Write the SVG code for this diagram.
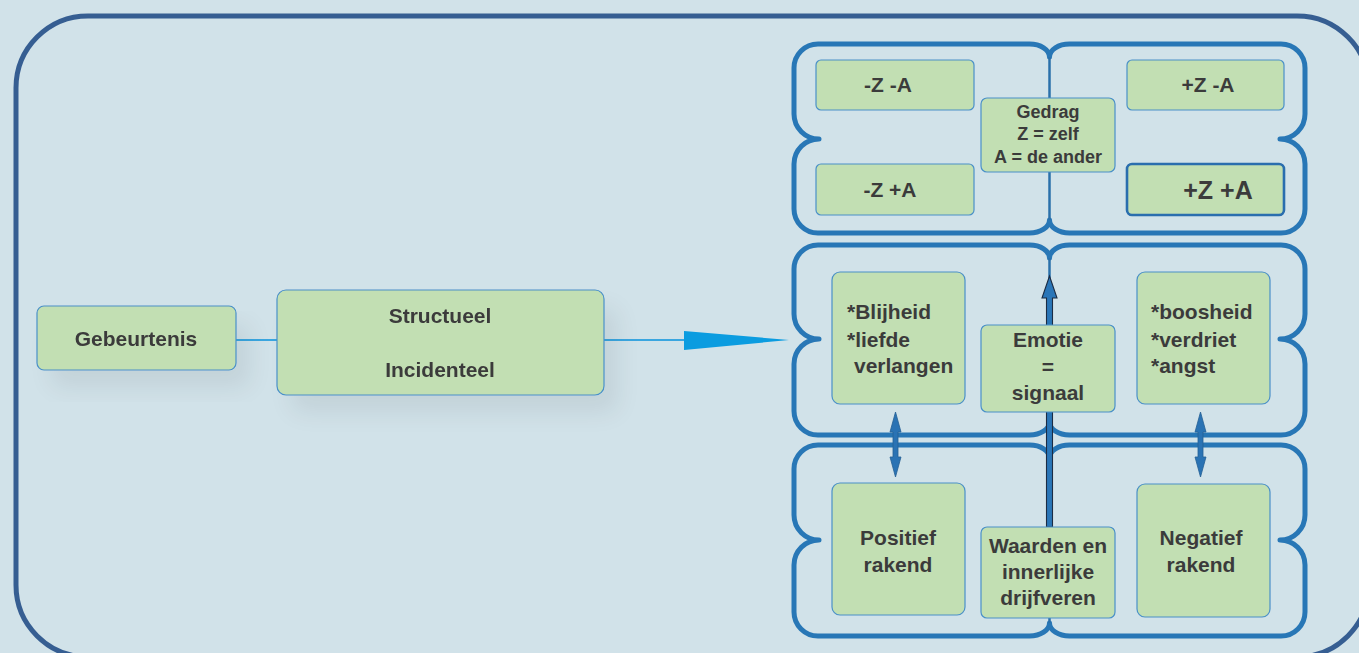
<svg xmlns="http://www.w3.org/2000/svg" width="1359" height="653" viewBox="0 0 1359 653">
<defs>
<style>
.bg{fill:#d1e2e9}
.frame{fill:none;stroke:#365e92;stroke-width:5}
.row{fill:none;stroke:#2877b6;stroke-width:5;stroke-linejoin:round}
.div{stroke:#2a70aa;stroke-width:2.5}
.box{fill:#c2dfb3;stroke:#4a90c8;stroke-width:1.2}
.boxb{fill:#c2dfb3;stroke:#2a6eae;stroke-width:2.6}
.t{font-family:"Liberation Sans",Arial,sans-serif;font-weight:bold;font-size:21px;fill:#3b3b3b}
.c{text-anchor:middle}
.s{font-size:18px}
.big{font-size:25px}
.conn{stroke:#3aa6e0;stroke-width:2;fill:none}
.arr{fill:#2a76b8;stroke:#1b2c44;stroke-width:1.1;stroke-linejoin:miter}
.darr{fill:#2a73b4;stroke:#245f94;stroke-width:0.8}
</style>
<filter id="sh" x="-20%" y="-20%" width="150%" height="170%">
<feGaussianBlur in="SourceAlpha" stdDeviation="12"/>
<feOffset dx="14" dy="18" result="b"/>
<feComponentTransfer><feFuncA type="linear" slope="0.07"/></feComponentTransfer>
<feMerge><feMergeNode/><feMergeNode in="SourceGraphic"/></feMerge>
</filter>
</defs>
<rect class="bg" x="0" y="0" width="1359" height="653"/>
<rect class="frame" x="16" y="16" width="1353" height="641" rx="72" ry="72"/>

<g id="rows">
<path class="row" d="M818,44 H1029.5 A20,13 0 0 1 1049.5,57 A20,13 0 0 1 1069.5,44 H1281 A24,24 0 0 1 1305,68 V114 A25,25 0 0 1 1280,139 A25,25 0 0 1 1305,164 V209 A24,24 0 0 1 1281,233 H1069.5 A20,13 0 0 1 1049.5,220 A20,13 0 0 1 1029.5,233 H818 A24,24 0 0 1 794,209 V164 A25,25 0 0 1 819,139 A25,25 0 0 1 794,114 V68 A24,24 0 0 1 818,44 Z"/>
<line class="div" x1="1049.5" y1="57" x2="1049.5" y2="220"/>
<path class="row" d="M818,245 H1029.5 A20,13 0 0 1 1049.5,258 A20,13 0 0 1 1069.5,245 H1281 A24,24 0 0 1 1305,269 V314 A25,25 0 0 1 1280,339 A25,25 0 0 1 1305,364 V411 A24,24 0 0 1 1281,435 H1069.5 A20,13 0 0 1 1049.5,422 A20,13 0 0 1 1029.5,435 H818 A24,24 0 0 1 794,411 V364 A25,25 0 0 1 819,339 A25,25 0 0 1 794,314 V269 A24,24 0 0 1 818,245 Z"/>
<line class="div" x1="1049.5" y1="258" x2="1049.5" y2="422"/>
<path class="row" d="M818,445 H1029.5 A20,13 0 0 1 1049.5,458 A20,13 0 0 1 1069.5,445 H1281 A24,24 0 0 1 1305,469 V515 A25,25 0 0 1 1280,540 A25,25 0 0 1 1305,565 V612 A24,24 0 0 1 1281,636 H1069.5 A20,13 0 0 1 1049.5,623 A20,13 0 0 1 1029.5,636 H818 A24,24 0 0 1 794,612 V565 A25,25 0 0 1 819,540 A25,25 0 0 1 794,515 V469 A24,24 0 0 1 818,445 Z"/>
<line class="div" x1="1049.5" y1="458" x2="1049.5" y2="623"/>
</g>

<g id="connectors">
<line class="conn" x1="236" y1="340" x2="277" y2="340"/>
<line class="conn" x1="604" y1="340" x2="686" y2="340"/>
<polygon points="684,331 789,340 684,350" fill="#0b9ce0"/>
<polygon class="arr" points="1046.5,527 1046.5,298 1042,298 1049.5,276 1057,298 1052.5,298 1052.5,527"/>
<polygon class="darr" points="895.5,412 901,432 898,432 898,457 901,457 895.5,477 890,457 893,457 893,432 890,432"/>
<polygon class="darr" points="1200.5,412 1206,432 1203,432 1203,457 1206,457 1200.5,477 1195,457 1198,457 1198,432 1195,432"/>
</g>

<g id="gebeurtenis" filter="url(#sh)">
<rect class="box" x="37" y="306" width="199" height="64" rx="7"/>
<text class="t c" x="136" y="346">Gebeurtenis</text>
</g>
<g id="structueel" filter="url(#sh)">
<rect class="box" x="277" y="290" width="327" height="105" rx="9"/>
<text class="t c" x="440" y="323">Structueel</text>
<text class="t c" x="440" y="377">Incidenteel</text>
</g>

<g id="zmina">
<rect class="box" x="816" y="60" width="158" height="50" rx="5"/>
<text class="t c" x="888" y="92">-Z -A</text>
</g>
<g id="zmina2">
<rect class="box" x="816" y="164" width="158" height="51" rx="5"/>
<text class="t c" x="890" y="197">-Z +A</text>
</g>
<g id="zplusmin">
<rect class="box" x="1127" y="60" width="157" height="50" rx="5"/>
<text class="t c" x="1208" y="92">+Z -A</text>
</g>
<g id="zplusplus">
<rect class="boxb" x="1127" y="164" width="157" height="51" rx="5"/>
<text class="t c big" x="1218" y="199">+Z +A</text>
</g>
<g id="gedrag">
<rect class="box" x="981" y="98" width="134" height="74" rx="6"/>
<text class="t c s" x="1048" y="118">Gedrag</text>
<text class="t c s" x="1048" y="140">Z = zelf</text>
<text class="t c s" x="1048" y="163">A = de ander</text>
</g>

<g id="positieve-emoties">
<rect class="box" x="832" y="272" width="133" height="132" rx="8"/>
<text class="t" x="847" y="319">*Blijheid</text>
<text class="t" x="847" y="347">*liefde</text>
<text class="t" x="854" y="373">verlangen</text>
</g>
<g id="emotie">
<rect class="box" x="981" y="325" width="134" height="87" rx="6"/>
<text class="t c" x="1048" y="347">Emotie</text>
<text class="t c" x="1048" y="374">=</text>
<text class="t c" x="1048" y="400">signaal</text>
</g>
<g id="negatieve-emoties">
<rect class="box" x="1137" y="272" width="133" height="132" rx="8"/>
<text class="t" x="1151" y="319">*boosheid</text>
<text class="t" x="1151" y="347">*verdriet</text>
<text class="t" x="1151" y="373">*angst</text>
</g>

<g id="positief">
<rect class="box" x="832" y="483" width="133" height="132" rx="8"/>
<text class="t c" x="898" y="545">Positief</text>
<text class="t c" x="898" y="572">rakend</text>
</g>
<g id="waarden">
<rect class="box" x="981" y="527" width="134" height="91" rx="6"/>
<text class="t c" x="1048" y="553">Waarden en</text>
<text class="t c" x="1048" y="579">innerlijke</text>
<text class="t c" x="1048" y="605">drijfveren</text>
</g>
<g id="negatief">
<rect class="box" x="1137" y="484" width="133" height="133" rx="8"/>
<text class="t c" x="1201" y="545">Negatief</text>
<text class="t c" x="1201" y="572">rakend</text>
</g>
</svg>
